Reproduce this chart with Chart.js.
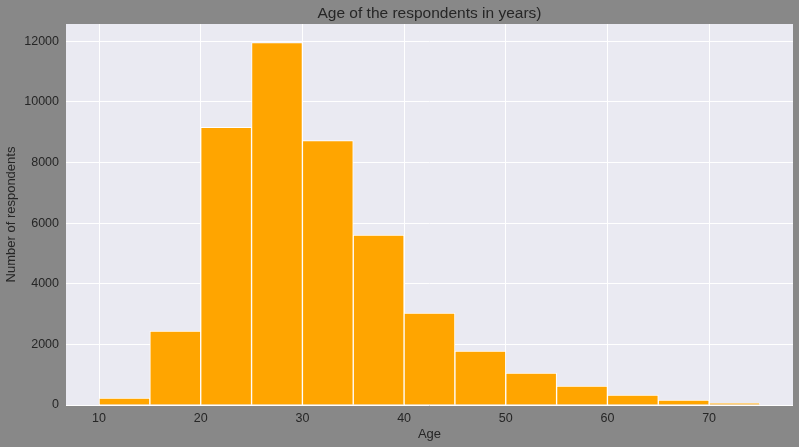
<!DOCTYPE html>
<html>
<head>
<meta charset="utf-8">
<script src="https://cdn.jsdelivr.net/npm/chart.js@4"></script>
<style>
  html, body { margin: 0; padding: 0; background: #888888; }
  #wrap { width: 799px; height: 447px; }
</style>
</head>
<body>
<div id="wrap"><canvas id="hist"></canvas></div>
<script>
// histogram bins (5 years wide)
const binStarts = [10, 15, 20, 25, 30, 35, 40, 45, 50, 55, 60, 65, 70];
const binWidth = 5;
const counts = [230, 2440, 9165, 11955, 8720, 5605, 3035, 1780, 1055, 625, 330, 165, 65];
const xTicks = [10, 20, 30, 40, 50, 60, 70];
const yTicks = [0, 2000, 4000, 6000, 8000, 10000, 12000];

const textColor = "#262626";
const fontFamily = "'Liberation Sans', Arial, sans-serif";

const plotBg = {
  id: "plotBg",
  beforeDraw(chart) {
    const { ctx, chartArea: a } = chart;
    ctx.save();
    ctx.fillStyle = "#EAEAF2";
    ctx.fillRect(a.left, a.top, a.right - a.left, a.bottom - a.top);
    ctx.restore();
  },
};

const ctx = document.getElementById("hist").getContext("2d");

new Chart(ctx, {
  type: "bar",
  data: {
    datasets: [
      {
        data: counts.map((c, i) => ({ x: binStarts[i] + binWidth / 2, y: c })),
        backgroundColor: "#FFA500",
        borderColor: "#FFFFFF",
        borderWidth: 1,
        barPercentage: 1,
        categoryPercentage: 1,
      },
    ],
  },
  options: {
    animation: false,
    responsive: true,
    maintainAspectRatio: false,
    layout: { padding: { left: 0, right: 6, top: 0, bottom: 0 } },
    plugins: {
      legend: { display: false },
      tooltip: { enabled: false },
      title: {
        display: true,
        text: "Age of the respondents in years)",
        color: textColor,
        fullSize: false,
        font: { family: fontFamily, size: 15.5, weight: "normal" },
        padding: { top: 4, bottom: 1.4 },
      },
    },
    scales: {
      x: {
        type: "linear",
        min: 6.75,
        max: 78.25,
        offset: false,
        afterBuildTicks: (axis) => {
          axis.ticks = xTicks.map((v) => ({ value: v }));
        },
        afterFit: (axis) => {
          axis.height = 42;
        },
        border: { display: false },
        grid: { color: "#FFFFFF", lineWidth: 1, drawTicks: false, offset: false },
        ticks: {
          color: textColor,
          padding: 6,
          font: { family: fontFamily, size: 12.5 },
          callback: (v) => String(v),
        },
        title: {
          display: true,
          text: "Age",
          color: textColor,
          font: { family: fontFamily, size: 13 },
          padding: { top: 0, bottom: 4.5 },
        },
      },
      y: {
        min: 0,
        max: 12570,
        afterBuildTicks: (axis) => {
          axis.ticks = yTicks.map((v) => ({ value: v }));
        },
        afterFit: (axis) => {
          axis.width = 66;
        },
        border: { display: false },
        grid: { color: "#FFFFFF", lineWidth: 1, drawTicks: false },
        ticks: {
          color: textColor,
          padding: 7,
          font: { family: fontFamily, size: 12.5 },
          callback: (v) => String(v),
        },
        title: {
          display: true,
          text: "Number of respondents",
          color: textColor,
          font: { family: fontFamily, size: 13 },
          padding: { top: 4, bottom: 0 },
        },
      },
    },
  },
  plugins: [plotBg],
});
</script>
</body>
</html>
